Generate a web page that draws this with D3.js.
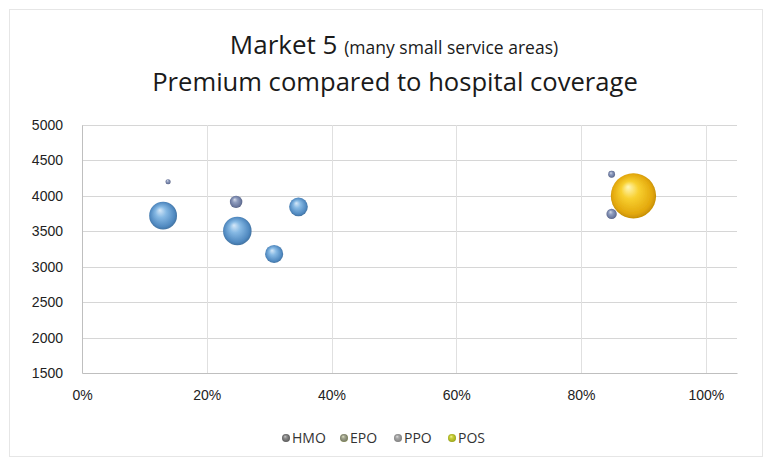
<!DOCTYPE html>
<html>
<head>
<meta charset="utf-8">
<script src="https://cdn.jsdelivr.net/npm/d3@7/dist/d3.min.js"></script>
<style>
  html, body { margin: 0; padding: 0; background: #ffffff; }
  svg { display: block; font-family: "Open Sans", "Noto Sans", sans-serif; }
</style>
</head>
<body>
<svg id="chart" width="772" height="466"></svg>
<script>
// Plan data: share of hospitals covered (x), monthly premium (y), enrollment size (bubble area)
const seriesNames = ["HMO", "EPO", "PPO", "POS"];
const hmoCoverage = [0.13, 0.249, 0.308, 0.347];
const hmoPremium  = [3720, 3505, 3180, 3845];
const hmoSize     = [40, 42, 17, 18];
const epoCoverage = [];
const epoPremium  = [];
const epoSize     = [];
const ppoCoverage = [0.138, 0.247, 0.849, 0.849];
const ppoPremium  = [4200, 3915, 4305, 3745];
const ppoSize     = [1.3, 8, 2.4, 5.5];
const posCoverage = [0.884];
const posPremium  = [4000];
const posSize     = [106];
const xTicks = [0, 0.2, 0.4, 0.6, 0.8, 1.0];
const yTicks = [1500, 2000, 2500, 3000, 3500, 4000, 4500, 5000];

const svg = d3.select("#chart");
const W = 772, H = 466;
const plot = { left: 82, right: 737, top: 125, bottom: 373 };

const x = d3.scaleLinear().domain([0, 1.05]).range([plot.left, plot.right]);
const y = d3.scaleLinear().domain([1500, 5000]).range([plot.bottom, plot.top]);
const r = d3.scaleSqrt().domain([0, 100]).range([0, 22]);

// Gradients for the shaded bubbles
const defs = svg.append("defs");
const palettes = {
  HMO: ["#d6e8f8", "#86b9e4", "#5089c0", "#3a6792"],
  EPO: ["#eef0dc", "#b0b496", "#84886f", "#5f6252"],
  PPO: ["#d6dbe8", "#909ebf", "#68759b", "#4b5575"],
  POS: ["#fff7b8", "#f8d030", "#e3a80c", "#b88200"]
};
const legendPalettes = {
  HMO: ["#c8c8c8", "#8c8c8c", "#666666", "#555555"],
  EPO: ["#dfe3c0", "#a3a690", "#7d806c", "#7f8a3a"],
  PPO: ["#e0e0e0", "#a8a8a8", "#8a8a8a", "#777777"],
  POS: ["#f4f29a", "#c9cf3c", "#a8b220", "#8a9418"]
};
const addGradient = (id, c) => {
  const g = defs.append("radialGradient")
    .attr("id", id)
    .attr("cx", "50%").attr("cy", "50%").attr("r", "55%")
    .attr("fx", "38%").attr("fy", "30%");
  g.append("stop").attr("offset", "0%").attr("stop-color", c[0]);
  g.append("stop").attr("offset", "35%").attr("stop-color", c[1]);
  g.append("stop").attr("offset", "80%").attr("stop-color", c[2]);
  g.append("stop").attr("offset", "100%").attr("stop-color", c[3]);
};
seriesNames.forEach(name => {
  addGradient("grad-" + name, palettes[name]);
  addGradient("legend-" + name, legendPalettes[name]);
});
const glow = defs.append("filter").attr("id", "glow")
  .attr("x", "-40%").attr("y", "-40%").attr("width", "180%").attr("height", "180%");
glow.append("feGaussianBlur").attr("stdDeviation", 0.6);

// Outer frame
svg.append("rect")
  .attr("x", 9.5).attr("y", 9.5).attr("width", W - 19).attr("height", H - 19)
  .attr("fill", "#ffffff").attr("stroke", "#e6e6e6");

// Title
const title = svg.append("text")
  .attr("x", 394).attr("y", 54)
  .attr("text-anchor", "middle").attr("fill", "#1a1a1a");
title.append("tspan").attr("font-size", 26).text("Market 5 ");
title.append("tspan").attr("font-size", 17.5).text("(many small service areas)");
svg.append("text")
  .attr("x", 395).attr("y", 91)
  .attr("text-anchor", "middle").attr("fill", "#1a1a1a")
  .attr("font-size", 25.6)
  .text("Premium compared to hospital coverage");

// Gridlines
svg.append("g").selectAll("line").data(yTicks.slice(1)).join("line")
  .attr("x1", plot.left).attr("x2", plot.right)
  .attr("y1", d => Math.round(y(d)) + 0.5).attr("y2", d => Math.round(y(d)) + 0.5)
  .attr("stroke", "#d6d6d6");
svg.append("g").selectAll("line").data(xTicks.slice(1)).join("line")
  .attr("x1", d => Math.round(x(d)) + 0.5).attr("x2", d => Math.round(x(d)) + 0.5)
  .attr("y1", plot.top).attr("y2", plot.bottom)
  .attr("stroke", "#e0e0e0");

// Axes
const yAxis = d3.axisLeft(y).tickValues(yTicks).tickSize(0).tickPadding(19).tickFormat(d3.format("d"));
const gy = svg.append("g").attr("transform", `translate(${plot.left},0)`).call(yAxis);
gy.select(".domain").attr("stroke", "#bfbfbf");
gy.selectAll("text").attr("font-size", 14).attr("fill", "#222");

const xAxis = d3.axisBottom(x).tickValues(xTicks).tickSize(0).tickPadding(17).tickFormat(d3.format(".0%"));
const gx = svg.append("g").attr("transform", `translate(0,${plot.bottom})`).call(xAxis);
gx.select(".domain").attr("stroke", "#bfbfbf");
gx.selectAll("text").attr("font-size", 14).attr("fill", "#222");

// Bubbles, larger drawn first so small ones stay visible
const points = [];
const addSeries = (name, xs, ys, ss) => xs.forEach((v, i) => points.push({ name, cov: v, prem: ys[i], size: ss[i] }));
addSeries("HMO", hmoCoverage, hmoPremium, hmoSize);
addSeries("EPO", epoCoverage, epoPremium, epoSize);
addSeries("PPO", ppoCoverage, ppoPremium, ppoSize);
addSeries("POS", posCoverage, posPremium, posSize);
points.sort((a, b) => b.size - a.size);

svg.append("g").selectAll("circle").data(points).join("circle")
  .attr("cx", d => x(d.cov))
  .attr("cy", d => y(d.prem))
  .attr("r", d => r(d.size))
  .attr("fill", d => `url(#grad-${d.name})`)
  .attr("filter", "url(#glow)");

// Legend
const legendX = [286, 344, 398, 452];
const lg = svg.append("g").attr("transform", "translate(0,438)");
seriesNames.forEach((name, i) => {
  lg.append("circle").attr("cx", legendX[i]).attr("cy", 0).attr("r", 4)
    .attr("fill", `url(#legend-${name})`);
  lg.append("text").attr("x", legendX[i] + 6).attr("y", 5)
    .attr("font-size", 14).attr("fill", "#333").text(name);
});
</script>
</body>
</html>
